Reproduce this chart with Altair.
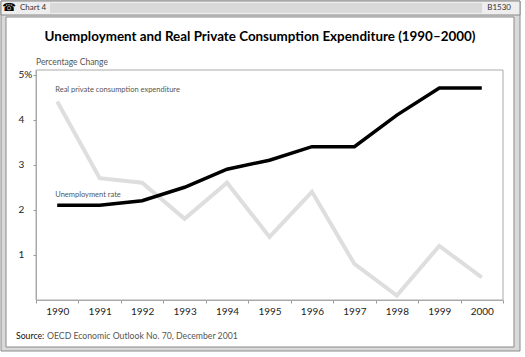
import altair as alt
import pandas as pd

years = ["1990", "1991", "1992", "1993", "1994", "1995", "1996", "1997", "1998", "1999", "2000"]
unemployment = [2.1, 2.1, 2.2, 2.5, 2.9, 3.1, 3.4, 3.4, 4.1, 4.7, 4.7]
consumption = [4.4, 2.7, 2.6, 1.8, 2.6, 1.4, 2.4, 0.8, 0.1, 1.2, 0.5]
y_ticks = [1, 2, 3, 4, 5]

title_text = "Unemployment and Real Private Consumption Expenditure (1990–2000)"
label_cons = "Real private consumption expenditure"
label_unemp = "Unemployment rate"

df = pd.DataFrame({
    "year": years * 2,
    "value": consumption + unemployment,
    "series": ["cons"] * len(years) + ["unemp"] * len(years),
})
labels_df = pd.DataFrame({
    "year": [years[0], years[0]],
    "value": [4.65, 2.33],
    "text": [label_cons, label_unemp],
})

W, H = 467, 230
PL, PT = 36, 70  # plot origin in page coordinates

def ax(px):
    return px - PL

def ay(py):
    return py - PT

xs = alt.Scale(type="band", domain=years, paddingInner=0, paddingOuter=0)
ys = alt.Scale(domain=[0, 5.1], nice=False, zero=True)

FONT = "Lato"

# --- frame decoration ---
deco = []
deco.append(alt.Chart().mark_rect(fill="#d9d9d9", stroke="#8a8a8a", strokeWidth=1).encode(
    x=alt.value(ax(1)), x2=alt.value(ax(520)), y=alt.value(ay(1)), y2=alt.value(ay(351))))
deco.append(alt.Chart().mark_rect(fill="#eeeeee", stroke="#8a8a8a", strokeWidth=1).encode(
    x=alt.value(ax(1)), x2=alt.value(ax(520)), y=alt.value(ay(1)), y2=alt.value(ay(15))))
for sy in [4, 6, 8, 10, 12]:
    deco.append(alt.Chart().mark_rule(stroke="#c4c4c4", strokeWidth=1).encode(
        x=alt.value(ax(50)), x2=alt.value(ax(482)), y=alt.value(ay(sy))))
deco.append(alt.Chart().mark_rect(fill="white", stroke="#8a8a8a", strokeWidth=1).encode(
    x=alt.value(ax(6)), x2=alt.value(ax(514)), y=alt.value(ay(17)), y2=alt.value(ay(347))))
deco.append(alt.Chart().mark_rect(fill=None, stroke="#aaaaaa", strokeWidth=1).encode(
    x=alt.value(0), x2=alt.value(W), y=alt.value(0), y2=alt.value(H)))
deco.append(alt.Chart().mark_text(text="☎", font="DejaVu Sans", fontSize=11, color="black",
                                  align="center", baseline="middle").encode(
    x=alt.value(ax(9)), y=alt.value(ay(8))))
deco.append(alt.Chart().mark_text(text="Chart 4", font=FONT, fontSize=8, color="#333",
                                  align="left", baseline="middle").encode(
    x=alt.value(ax(20)), y=alt.value(ay(8))))
deco.append(alt.Chart().mark_text(text="B1530", font=FONT, fontSize=8, color="#333",
                                  align="right", baseline="middle").encode(
    x=alt.value(ax(511)), y=alt.value(ay(8))))
deco.append(alt.Chart().mark_text(text=title_text, font="Lato", fontSize=13.4, fontWeight="bold",
                                  color="black", align="center", baseline="middle").encode(
    x=alt.value(ax(260)), y=alt.value(ay(37))))
deco.append(alt.Chart().mark_text(text="Percentage Change", font=FONT, fontSize=8.5, color="#555",
                                  align="left", baseline="middle").encode(
    x=alt.value(ax(36)), y=alt.value(ay(62))))
deco.append(alt.Chart().mark_text(text="Source:", font=FONT, fontSize=8.7, color="#111",
                                  align="left", baseline="middle").encode(
    x=alt.value(ax(16)), y=alt.value(ay(336))))
deco.append(alt.Chart().mark_text(text="OECD Economic Outlook No. 70, December 2001", font=FONT,
                                  fontSize=8.7, color="#555", align="left", baseline="middle").encode(
    x=alt.value(ax(47)), y=alt.value(ay(336))))

base = alt.Chart(df)
cons_line = base.transform_filter(alt.datum.series == "cons").mark_line(
    color="#dedede", strokeWidth=4, strokeJoin="miter").encode(
    x=alt.X("year:O", scale=xs, sort=years,
            axis=alt.Axis(title=None, tickBand="extent", labelFont=FONT, labelFontSize=10,
                          labelColor="#222", labelAngle=0, tickSize=3, tickColor="#999",
                          domainColor="#aaa", labelPadding=3, zindex=1)),
    y=alt.Y("value:Q", scale=ys,
            axis=alt.Axis(title=None, values=y_ticks, grid=False, labelFont=FONT, labelFontSize=10,
                          labelColor="#222", labelAlign="left", labelPadding=15, tickSize=3,
                          tickColor="#999", domainColor="#aaa", zindex=1,
                          labelExpr="datum.value == 5 ? '5%' : datum.label")),
)
unemp_line = base.transform_filter(alt.datum.series == "unemp").mark_line(
    color="black", strokeWidth=3.5, strokeJoin="miter").encode(
    x=alt.X("year:O", scale=xs, sort=years),
    y=alt.Y("value:Q", scale=ys),
)
labels = alt.Chart(labels_df).mark_text(font=FONT, fontSize=7.5, color="#555", align="left",
                                        baseline="middle", dx=-2).encode(
    x=alt.X("year:O", scale=xs, sort=years),
    y=alt.Y("value:Q", scale=ys),
    text="text:N",
)

chart = alt.layer(*deco, cons_line, unemp_line, labels).properties(
    width=W, height=H,
    padding={"left": PL, "top": PT, "right": 525 - PL - W, "bottom": 357 - PT - H},
    autosize=alt.AutoSizeParams(type="none"),
    background="white",
).configure_view(stroke=None)

chart.save("out.html", embed_options={"renderer": "svg", "actions": False})
